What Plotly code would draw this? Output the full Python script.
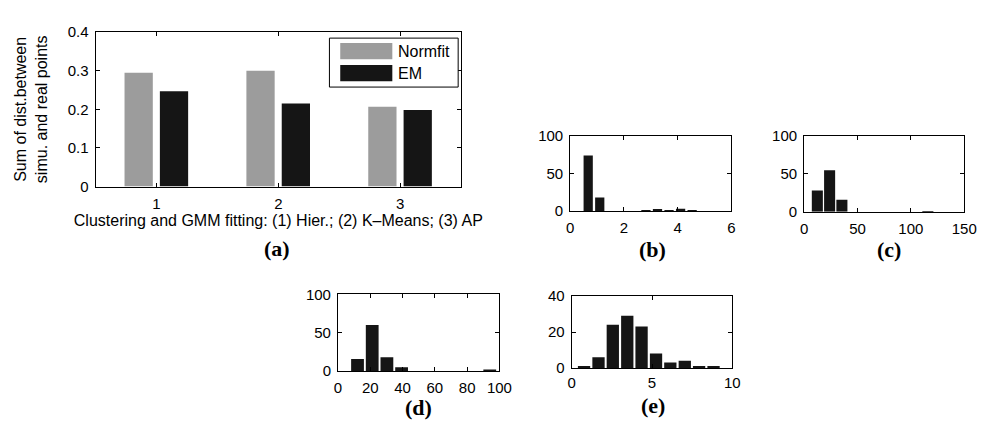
import plotly.graph_objects as go

W, H = 985, 423

# ---------------- data ----------------
methods = [1, 2, 3]
series_names = ["Normfit", "EM"]
normfit_vals = [0.295, 0.300, 0.207]
em_vals = [0.247, 0.215, 0.198]

b_centers = [0.67, 1.10, 1.53, 1.96, 2.39, 2.82, 3.25, 3.68, 4.11, 4.54]
b_counts = [74, 18, 0, 0, 0, 1, 2, 1, 3, 1]

c_centers = [12.4, 23.9, 35.4, 46.9, 58.4, 69.9, 81.4, 92.9, 104.4, 115.9]
c_counts = [28, 55, 16, 0, 0, 0, 0, 0, 0, 1]

d_centers = [12.1, 21.2, 30.3, 39.4, 48.5, 57.6, 66.7, 75.8, 84.9, 94.0]
d_counts = [16, 60, 18, 5, 0, 0, 0, 0, 0, 2]

e_centers = [0.77, 1.67, 2.56, 3.46, 4.35, 5.25, 6.14, 7.04, 7.93, 8.83]
e_counts = [1, 6, 24, 29, 23, 8, 3, 4, 1, 1]

captions = ["(a)", "(b)", "(c)", "(d)", "(e)"]

# ---------------- styling ----------------
GRAY = "#9c9c9c"
DARK = "#151515"
FONT = "Liberation Sans, Arial, sans-serif"
SERIF = "Liberation Serif, Times New Roman, serif"
TICK_SIZE = 15
TITLE_SIZE = 16


def px_dom_x(a, b):
    return [a / W, b / W]


def px_dom_y(top, bottom):
    return [1 - bottom / H, 1 - top / H]


fig = go.Figure()

# panel (a)
fig.add_trace(go.Bar(x=methods, y=normfit_vals, name=series_names[0],
                     marker=dict(color=GRAY, line=dict(width=0)),
                     width=0.232, offset=-0.262, xaxis="x", yaxis="y",
                     showlegend=False))
fig.add_trace(go.Bar(x=methods, y=em_vals, name=series_names[1],
                     marker=dict(color=DARK, line=dict(width=0)),
                     width=0.232, offset=0.028, xaxis="x", yaxis="y",
                     showlegend=False))


def hist(centers, counts, frac, ax):
    step = centers[1] - centers[0]
    fig.add_trace(go.Bar(x=centers, y=counts, width=step * frac,
                         marker=dict(color=DARK, line=dict(width=0)),
                         xaxis="x" + ax, yaxis="y" + ax, showlegend=False))


hist(b_centers, b_counts, 0.8, "2")
hist(c_centers, c_counts, 0.9, "3")
hist(d_centers, d_counts, 0.87, "4")
hist(e_centers, e_counts, 0.85, "5")

axis_common = dict(showline=True, linecolor="black", linewidth=1, mirror="ticks",
                   ticks="inside", ticklen=4, tickcolor="black", tickwidth=1,
                   showgrid=False, zeroline=False, ticklabelstandoff=3,
                   tickfont=dict(family=FONT, size=TICK_SIZE, color="black"))

layout = dict(
    width=W, height=H, margin=dict(l=0, r=0, t=0, b=0),
    paper_bgcolor="white", plot_bgcolor="white", barmode="overlay",
    showlegend=False,
)

layout["xaxis"] = dict(axis_common, domain=px_dom_x(85, 457), range=[0.5, 3.5],
                       tickvals=methods, anchor="y",
                       title=dict(text="Clustering and GMM fitting: (1) Hier.; (2) K\u2013Means; (3) AP",
                                  font=dict(family=FONT, size=TITLE_SIZE, color="black"), standoff=2))
layout["yaxis"] = dict(axis_common, domain=px_dom_y(15.7, 176.7), range=[0, 0.4],
                       tickvals=[0, 0.1, 0.2, 0.3, 0.4], anchor="x",
                       title=dict(text="Sum of dist.between<br>simu. and real points",
                                  font=dict(family=FONT, size=TITLE_SIZE, color="black"), standoff=16))

layout["xaxis2"] = dict(axis_common, domain=px_dom_x(568, 732), range=[0, 6],
                        tickvals=[0, 2, 4, 6], anchor="y2")
layout["yaxis2"] = dict(axis_common, domain=px_dom_y(124, 202), range=[0, 100],
                        tickvals=[0, 50, 100], anchor="x2")

layout["xaxis3"] = dict(axis_common, domain=px_dom_x(806, 969), range=[0, 150],
                        tickvals=[0, 50, 100, 150], anchor="y3")
layout["yaxis3"] = dict(axis_common, domain=px_dom_y(124, 203), range=[0, 100],
                        tickvals=[0, 50, 100], anchor="x3")

layout["xaxis4"] = dict(axis_common, domain=px_dom_x(331.7, 496), range=[0, 100],
                        tickvals=[0, 20, 40, 60, 80, 100], anchor="y4")
layout["yaxis4"] = dict(axis_common, domain=px_dom_y(289, 369), range=[0, 100],
                        tickvals=[0, 50, 100], anchor="x4")

layout["xaxis5"] = dict(axis_common, domain=px_dom_x(569.5, 733), range=[0, 10],
                        tickvals=[0, 5, 10], anchor="y5", ticklabelstandoff=1)
layout["yaxis5"] = dict(axis_common, domain=px_dom_y(290.7, 365.7), range=[0, 40],
                        tickvals=[0, 20, 40], anchor="x5")

fig.update_layout(**layout)

# custom legend for panel (a)
shapes = [
    dict(type="rect", xref="paper", yref="paper", x0=323 / W, x1=454 / W,
         y0=1 - 73 / H, y1=1 - 22 / H, line=dict(color="black", width=1),
         fillcolor="white", layer="above"),
    dict(type="rect", xref="paper", yref="paper", x0=334 / W, x1=387 / W,
         y0=1 - 44 / H, y1=1 - 27 / H, line=dict(width=0), fillcolor=GRAY, layer="above"),
    dict(type="rect", xref="paper", yref="paper", x0=334 / W, x1=387 / W,
         y0=1 - 67 / H, y1=1 - 50 / H, line=dict(width=0), fillcolor=DARK, layer="above"),
]
annotations = [
    dict(text=series_names[0], xref="paper", yref="paper", x=391 / W, y=1 - 35.5 / H,
         xanchor="left", yanchor="middle", showarrow=False,
         font=dict(family=FONT, size=TITLE_SIZE, color="black")),
    dict(text=series_names[1], xref="paper", yref="paper", x=391 / W, y=1 - 58.5 / H,
         xanchor="left", yanchor="middle", showarrow=False,
         font=dict(family=FONT, size=TITLE_SIZE, color="black")),
]
cap_pos = [(270, 241), (652, 242), (892, 242), (414, 407), (652, 405)]
for cap, (cx, cy) in zip(captions, cap_pos):
    annotations.append(dict(text="<b>%s</b>" % cap, xref="paper", yref="paper",
                            x=cx / W, y=1 - cy / H, xanchor="center", yanchor="middle",
                            showarrow=False,
                            font=dict(family=SERIF, size=22, color="black")))

fig.update_layout(shapes=shapes, annotations=annotations)

fig.write_html("out.html")
